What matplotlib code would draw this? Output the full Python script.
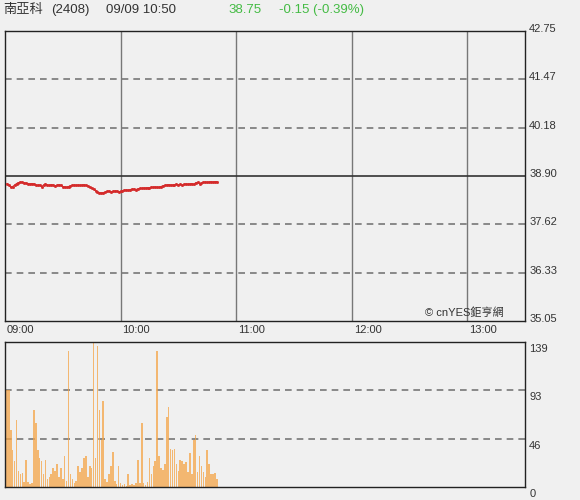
import matplotlib
matplotlib.use("Agg")
import matplotlib.pyplot as plt
import matplotlib.transforms as mtransforms
import numpy as np

plt.rcParams['font.family'] = ['Liberation Sans', 'Noto Sans CJK TC', 'DejaVu Sans']

# minutes after 09:00, one point per minute up to 10:50
minutes = list(range(1, 111))

prices = [
    38.70, 38.66, 38.60, 38.62, 38.66, 38.70, 38.72, 38.74, 38.73, 38.72,
    38.71, 38.70, 38.69, 38.70, 38.69, 38.66, 38.65, 38.66, 38.62, 38.66,
    38.69, 38.66, 38.65, 38.67, 38.66, 38.64, 38.65, 38.67, 38.65, 38.62,
    38.61, 38.60, 38.62, 38.64, 38.65, 38.66, 38.65, 38.66, 38.65, 38.66,
    38.67, 38.65, 38.64, 38.60, 38.58, 38.55, 38.51, 38.48, 38.46, 38.45,
    38.46, 38.47, 38.49, 38.50, 38.48, 38.49, 38.50, 38.50, 38.48, 38.49,
    38.51, 38.52, 38.53, 38.52, 38.54, 38.55, 38.55, 38.54, 38.56, 38.57,
    38.57, 38.58, 38.58, 38.59, 38.59, 38.60, 38.60, 38.61, 38.60, 38.60,
    38.62, 38.64, 38.65, 38.66, 38.67, 38.66, 38.66, 38.67, 38.68, 38.66,
    38.68, 38.65, 38.68, 38.69, 38.68, 38.69, 38.70, 38.68, 38.72, 38.73,
    38.70, 38.71, 38.73, 38.74, 38.73, 38.74, 38.75, 38.74, 38.75, 38.75,
]

volumes = [
    93, 93, 55, 35, 25, 64, 15, 12, 13, 5,
    26, 5, 3, 4, 74, 61, 35, 28, 25, 12,
    26, 8, 10, 12, 18, 15, 22, 10, 18, 8,
    30, 6, 130, 12, 8, 4, 6, 20, 14, 18,
    28, 30, 10, 20, 18, 139, 28, 135, 74, 45,
    82, 8, 5, 12, 20, 34, 6, 3, 20, 4,
    2, 3, 1, 12, 2, 3, 2, 4, 26, 4,
    61, 4, 2, 5, 28, 12, 20, 25, 130, 30,
    18, 16, 22, 67, 77, 36, 35, 36, 22, 15,
    26, 25, 22, 24, 14, 33, 12, 45, 50, 14,
    30, 20, 14, 10, 35, 22, 12, 12, 13, 8,
]

prev_close = 38.90
price_ticks = [35.05, 36.33, 37.62, 38.90, 40.18, 41.47, 42.75]
vol_ticks = [0, 46, 93, 139]
time_ticks = [0, 60, 120, 180, 240]
time_labels = ["09:00", "10:00", "11:00", "12:00", "13:00"]

bg = "#f0f0f0"
W, H = 580, 500
fig = plt.figure(figsize=(W / 100, H / 100), dpi=100, facecolor=bg)


def px_axes(x0, y0, x1, y1):
    return fig.add_axes([x0 / W, 1 - y1 / H, (x1 - x0) / W, (y1 - y0) / H])


ax = px_axes(5, 31, 525, 321)
axv = px_axes(5, 342, 525, 487)

for a in (ax, axv):
    a.set_facecolor(bg)
    a.set_xlim(0, 270)
    for s in a.spines.values():
        s.set_color("#222222")
        s.set_linewidth(1.0)
    a.yaxis.tick_right()
    a.tick_params(axis="y", length=0, labelsize=8, labelcolor="#333333", pad=3)

# price panel
ax.set_ylim(price_ticks[0], price_ticks[-1])
for t in time_ticks[1:]:
    ax.axvline(t, color="#777777", lw=1.0, zorder=1)
for p in price_ticks[1:-1]:
    if p == prev_close:
        ax.axhline(p, color="#333333", lw=1.2, zorder=1)
    else:
        ax.axhline(p, color="#777777", lw=1.2, ls=(0, (4, 3)), zorder=1)

ax.plot(minutes, prices, color="#d42a2a", lw=0.8, marker="s", ms=1.0,
        mec="#d42a2a", zorder=3)

ax.set_yticks(price_ticks)
ax.set_yticklabels([f"{p:.2f}" for p in price_ticks])
ax.set_xticks(time_ticks)
ax.set_xticklabels(time_labels)
ax.tick_params(axis="x", length=0, labelsize=8, labelcolor="#333333", pad=3)
for lab in ax.get_xticklabels():
    lab.set_horizontalalignment("left")
    lab.set_transform(lab.get_transform() + mtransforms.ScaledTranslation(2 / 100, 0, fig.dpi_scale_trans))
for lab in ax.get_yticklabels():
    lab.set_transform(lab.get_transform() + mtransforms.ScaledTranslation(0, 3 / 100, fig.dpi_scale_trans))

ax.text(0.96, 0.012, "© cnYES鉅亨網", transform=ax.transAxes, ha="right", va="bottom",
        fontsize=8, color="#333333", zorder=4)

# volume panel
axv.set_ylim(0, vol_ticks[-1])
for v in vol_ticks[1:-1]:
    axv.axhline(v, color="#777777", lw=1.2, ls=(0, (4, 3)), zorder=1)
axv.bar(minutes, volumes, width=0.8, color="#f5a447", alpha=0.75,
        edgecolor="none", zorder=2)
axv.set_xticks([])
axv.set_yticks(vol_ticks)
axv.set_yticklabels([str(v) for v in vol_ticks])
for lab in axv.get_yticklabels():
    lab.set_transform(lab.get_transform() + mtransforms.ScaledTranslation(0, -6 / 100, fig.dpi_scale_trans))

# header line
ty = 1 - 10 / H
fig.text(3 / W, ty, "南亞科", fontsize=9.5, color="#333333", va="center")
fig.text(51 / W, ty, "(2408)", fontsize=9.5, color="#333333", va="center")
fig.text(106 / W, ty, "09/09 10:50", fontsize=9.5, color="#333333", va="center")
fig.text(228 / W, ty, "38.75", fontsize=9.5, color="#44bb44", va="center")
fig.text(279 / W, ty, "-0.15 (-0.39%)", fontsize=9.5, color="#44bb44", va="center")

fig.savefig("out.png", dpi=100, facecolor=bg)
